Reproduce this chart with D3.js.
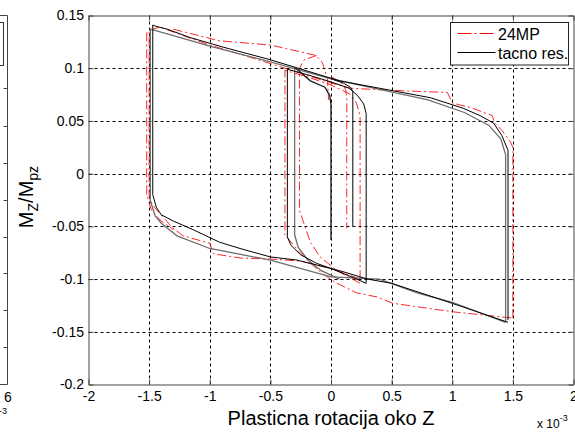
<!DOCTYPE html>
<html><head><meta charset="utf-8">
<script src="https://cdn.jsdelivr.net/npm/d3@7"></script>
<style>
body{margin:0;background:#fff}
svg{display:block}
text{font-family:"Liberation Sans",Arial,sans-serif;fill:#000}
</style>
</head><body>
<svg id="c" width="575" height="435"></svg>
<script>
// ---------- data (x in units of 1e-3) ----------
const xTicks = [-2,-1.5,-1,-0.5,0,0.5,1,1.5,2];
const xTickLabels = ["-2","-1.5","-1","-0.5","0","0.5","1","1.5","2"];
const yTicks = [0.15,0.1,0.05,0,-0.05,-0.1,-0.15,-0.2];
const yTickLabels = ["0.15","0.1","0.05","0","-0.05","-0.1","-0.15","-0.2"];
const legendLabels = ["24MP","tacno res."];

// "tacno res." (exact) branches
const exactLoop1 = [[1.46,-0.139],[1.46,0.022],[1.41,0.036],[1.34,0.048],[1.23,0.055],[1.09,0.062],[0.82,0.072],[0.40,0.081],[0.07,0.088],[-0.10,0.094],[-0.50,0.108],[-0.89,0.120],[-1.16,0.129],[-1.35,0.137],[-1.45,0.140],[-1.47,0.141],[-1.47,-0.020],[-1.44,-0.032],[-1.40,-0.039],[-1.30,-0.045],[-1.14,-0.053],[-0.92,-0.065],[-0.75,-0.071],[-0.50,-0.079],[-0.28,-0.082],[0.07,-0.092],[0.30,-0.100],[0.50,-0.104],[1.00,-0.123],[1.46,-0.141]];
const exactLoop2 = [[1.44,-0.141],[1.44,0.018],[1.40,0.033],[1.30,0.046],[1.10,0.058],[0.80,0.070],[0.40,0.080],[0.00,0.090],[-0.50,0.106],[-1.00,0.121],[-1.30,0.131],[-1.49,0.137],[-1.49,-0.026],[-1.45,-0.040],[-1.40,-0.047],[-1.27,-0.059],[-1.00,-0.071],[-0.50,-0.082],[0.00,-0.098],[0.40,-0.100],[0.71,-0.113],[1.00,-0.122],[1.44,-0.141]];
const exactSmall1 = [[0.29,-0.104],[0.29,0.057],[0.27,0.066],[0.22,0.074],[0.15,0.081],[0.00,0.087],[-0.20,0.094],[-0.36,0.099],[-0.36,-0.060],[-0.33,-0.068],[-0.25,-0.077],[-0.12,-0.085],[0.00,-0.090],[0.15,-0.097],[0.29,-0.104]];
const exactSmall2 = [[-0.30,0.101],[-0.30,-0.058],[-0.27,-0.070],[-0.19,-0.082],[-0.08,-0.092],[0.07,-0.100]];
const exactSmall3 = [[0.00,0.090],[0.10,0.086],[0.16,0.082],[0.18,0.078],[0.18,-0.050]];
const exactFinal = [[-0.30,0.101],[-0.17,0.088],[-0.05,0.082],[-0.01,0.074],[0.00,0.066],[0.00,-0.063]];

// "24MP" branches
const mp24A = [[1.50,-0.137],[1.50,0.025],[1.48,0.030],[1.41,0.041],[1.35,0.048],[1.33,0.055],[1.17,0.062],[1.00,0.067],[0.96,0.077],[0.50,0.079],[0.16,0.081],[0.00,0.086],[-0.30,0.097],[-0.60,0.108],[-1.00,0.122],[-1.22,0.131],[-1.41,0.139],[-1.50,0.136],[-1.50,-0.022],[-1.47,-0.030],[-1.41,-0.038],[-1.31,-0.051],[-1.22,-0.059],[-1.00,-0.066],[-0.97,-0.076],[-0.75,-0.080],[-0.50,-0.081],[-0.25,-0.083],[0.00,-0.090],[0.24,-0.100]];
const mp24B = [[0.24,-0.100],[0.24,0.055],[0.21,0.067],[0.15,0.076],[0.00,0.084],[-0.20,0.092],[-0.38,0.098],[-0.38,-0.058],[-0.27,-0.073],[-0.17,-0.085],[-0.07,-0.095],[0.05,-0.104],[0.21,-0.113],[0.38,-0.117],[0.51,-0.123],[1.00,-0.131],[1.50,-0.137]];
const mp24C = [[-1.30,0.137],[-1.16,0.133],[-0.92,0.126],[-0.50,0.122],[-0.23,0.115],[-0.12,0.112],[-0.07,0.105],[-0.03,0.090],[-0.02,0.070]];
const mp24D = [[-0.12,0.112],[-0.22,0.108],[-0.26,0.100],[-0.26,-0.035],[-0.17,-0.065],[-0.09,-0.079],[0.05,-0.092],[0.24,-0.104]];
const mp24E = [[0.00,0.092],[0.08,0.087],[0.12,0.080],[0.13,0.072],[0.13,-0.052]];
const mp24F = [[-1.52,0.134],[-1.52,-0.020],[-1.48,-0.035],[-1.40,-0.045],[-1.30,-0.053]];

// ---------- drawing ----------
const svg = d3.select("#c");
const L = 88.5, R = 573.5, T = 15.5, B = 384.5;
const x = d3.scaleLinear().domain([-2,2]).range([L,R]);
const y = d3.scaleLinear().domain([-0.2,0.15]).range([B,T]);

// partial neighbouring subplot on the left
const lf = svg.append("g");
lf.append("line").attr("x1",7.5).attr("x2",7.5).attr("y1",T).attr("y2",B).attr("stroke","#444");
lf.append("line").attr("x1",0).attr("x2",7.5).attr("y1",B).attr("y2",B).attr("stroke","#444");
lf.append("line").attr("x1",0).attr("x2",7.5).attr("y1",T).attr("y2",T).attr("stroke","#444");
[88,126,163,200,237,273,310,347].forEach(v=>{
  lf.append("line").attr("x1",3.5).attr("x2",7.5).attr("y1",v+0.5).attr("y2",v+0.5).attr("stroke","#444");
});
lf.append("rect").attr("x",-10).attr("y",22.5).attr("width",13.5).attr("height",43).attr("fill","#fff").attr("stroke","#333");
lf.append("text").attr("x",8).attr("y",402).attr("text-anchor","middle").style("font-size","14px").text("6");
lf.append("text").attr("x",-1).attr("y",414).style("font-size","9px").text("-3");

// grid
const grid = svg.append("g").attr("stroke","#000").attr("stroke-dasharray","3,3").attr("stroke-width",1);
xTicks.slice(1,-1).forEach(v=>{
  grid.append("line").attr("x1",Math.round(x(v))+0.5).attr("x2",Math.round(x(v))+0.5).attr("y1",T).attr("y2",B);
});
yTicks.slice(1,-1).forEach(v=>{
  grid.append("line").attr("x1",L).attr("x2",R).attr("y1",Math.round(y(v))+0.5).attr("y2",Math.round(y(v))+0.5);
});

// clip
svg.append("clipPath").attr("id","pc").append("rect").attr("x",L).attr("y",T).attr("width",R-L).attr("height",B-T);
const plot = svg.append("g").attr("clip-path","url(#pc)");
const line = d3.line().x(d=>x(d[0])).y(d=>y(d[1]));

const redDash = "9,3,2,3";
[mp24A,mp24B,mp24C,mp24D,mp24E,mp24F].forEach(s=>{
  plot.append("path").attr("d",line(s)).attr("fill","none").attr("stroke","#ff0000")
    .attr("stroke-width",1).attr("stroke-opacity",0.85).attr("stroke-dasharray",redDash);
});
const exactStyles = [
  [exactLoop2,"#6e6e6e",1.3],
  [exactSmall2,"#6e6e6e",1.3],
  [exactLoop1,"#000",1],
  [exactSmall1,"#000",1],
  [exactSmall3,"#000",1],
  [exactFinal,"#222",1.4]
];
exactStyles.forEach(([s,c,w])=>{
  plot.append("path").attr("d",line(s)).attr("fill","none").attr("stroke",c).attr("stroke-width",w);
});

// axes
const axG = svg.append("g");
const bx = axG.append("g").attr("transform",`translate(0,${B})`)
  .call(d3.axisBottom(x).tickValues(xTicks).tickFormat((d,i)=>xTickLabels[i]).tickSizeInner(-5).tickSizeOuter(0).tickPadding(7));
const tx = axG.append("g").attr("transform",`translate(0,${T})`)
  .call(d3.axisTop(x).tickValues(xTicks).tickFormat("").tickSizeInner(-5).tickSizeOuter(0));
const ly = axG.append("g").attr("transform",`translate(${L},0)`)
  .call(d3.axisLeft(y).tickValues(yTicks).tickFormat((d,i)=>yTickLabels[i]).tickSizeInner(-5).tickSizeOuter(0).tickPadding(4.5));
const ry = axG.append("g").attr("transform",`translate(${R},0)`)
  .call(d3.axisRight(y).tickValues(yTicks).tickFormat("").tickSizeInner(-5).tickSizeOuter(0));
axG.selectAll(".domain").attr("stroke","#444");
axG.selectAll(".tick line").attr("stroke","#444");
axG.selectAll(".tick text").style("font-size","14px").style("font-family","'Liberation Sans',Arial,sans-serif").attr("fill","#000");

// axis labels
svg.append("text").attr("x",331).attr("y",425).attr("text-anchor","middle").style("font-size","20px").text("Plasticna rotacija oko Z");
const xl = svg.append("text").attr("x",537).attr("y",428).style("font-size","12px");
xl.append("tspan").text("x 10");
xl.append("tspan").attr("dy",-7).style("font-size","9px").text("-3");

const yl = svg.append("text").attr("transform","translate(33,197) rotate(-90)").attr("text-anchor","middle").style("font-size","20px");
yl.append("tspan").text("M");
yl.append("tspan").attr("dy",5).style("font-size","14px").text("Z");
yl.append("tspan").attr("dy",-5).text("/M");
yl.append("tspan").attr("dy",5).style("font-size","14px").text("pz");

// legend
const lg = svg.append("g");
lg.append("rect").attr("x",450.5).attr("y",22.5).attr("width",118).attr("height",42.5).attr("fill","#fff").attr("stroke","#222");
lg.append("line").attr("x1",457.5).attr("x2",495.5).attr("y1",33.5).attr("y2",33.5).attr("stroke","#ff0000").attr("stroke-dasharray","14,3,2,3");
lg.append("text").attr("x",498).attr("y",40).style("font-size","16px").text(legendLabels[0]);
lg.append("line").attr("x1",457.5).attr("x2",495.5).attr("y1",52.5).attr("y2",52.5).attr("stroke","#000");
lg.append("text").attr("x",498).attr("y",59).style("font-size","16px").text(legendLabels[1]);
</script>
</body></html>
